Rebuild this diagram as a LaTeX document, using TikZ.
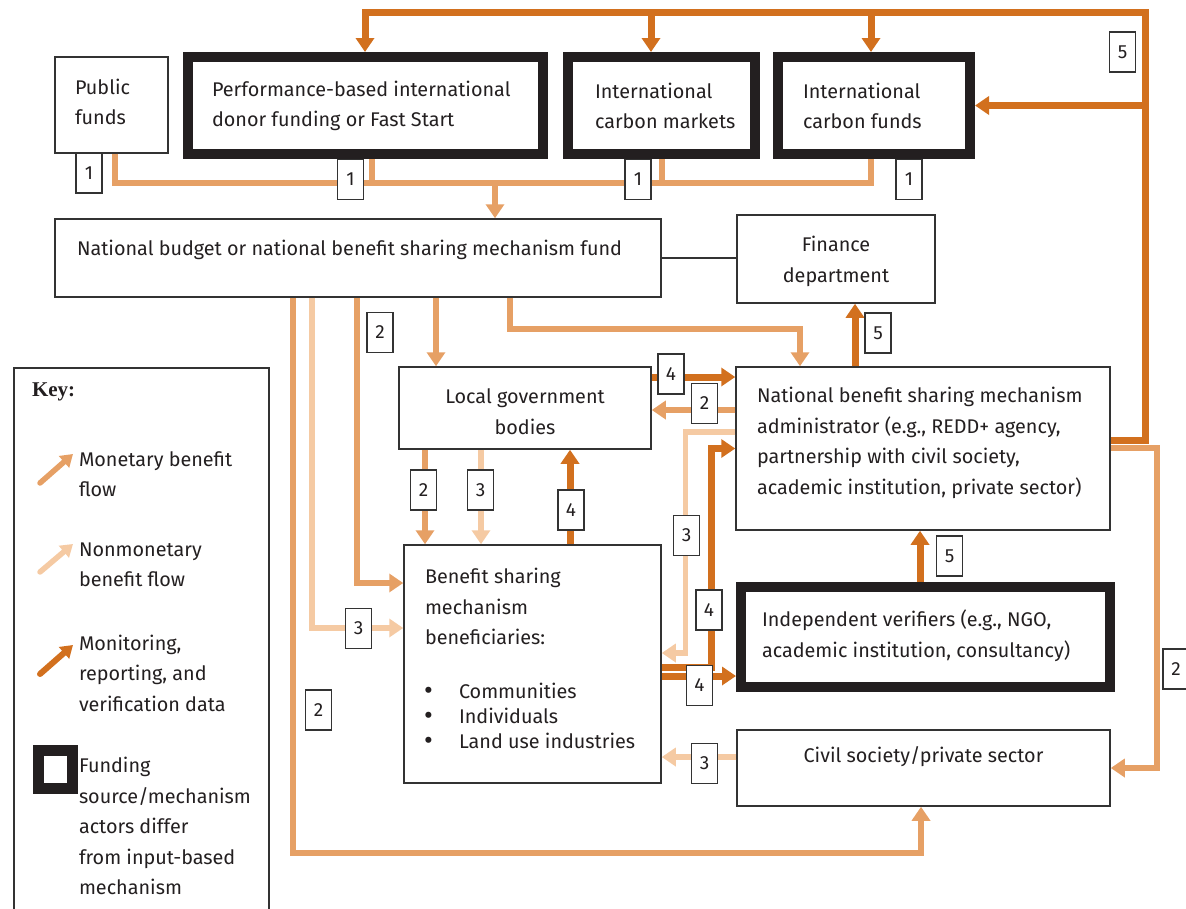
\documentclass[tikz,border=0pt]{standalone}
\usepackage{fontspec}
\setmainfont{Fira Sans}
\newfontfamily\keyfont{Liberation Serif}
\usetikzlibrary{arrows.meta,calc}
\definecolor{mrvc}{HTML}{D2701E}
\definecolor{monc}{HTML}{E6A065}
\definecolor{nonc}{HTML}{F5CAA3}
\definecolor{edge}{HTML}{333333}
\definecolor{heavy}{HTML}{231F20}
\newcommand{\bul}{\makebox[35pt][l]{\raisebox{-1.2pt}{\fontsize{27}{27}\selectfont\textbullet}}}
\begin{document}
\begin{tikzpicture}[x=1pt,y=-1pt,
  every node/.style={inner sep=0pt, outer sep=0pt},
  txt/.style={font=\fontsize{19.8}{30.5}\selectfont, text=heavy, align=left, anchor=west},
  box/.style={draw=edge, line width=1.5pt, outer sep=0.75pt},
  heavybox/.style={draw=heavy, line width=10pt, outer sep=5pt},
  num/.style={draw=edge, fill=white, line width=1.3pt, minimum width=26pt, minimum height=40pt,
              font=\fontsize{19}{20}\selectfont, text=heavy},
  tip/.style={-{Triangle[width=18pt,length=14pt]}},
  smalltip/.style={-{Triangle[width=15pt,length=12pt]}, line cap=round},
  mrv/.style={draw=mrvc, line width=7pt},
  mon/.style={draw=monc, line width=5.5pt},
  non/.style={draw=nonc, line width=5.5pt},
]
\useasboundingbox (0,0) rectangle (1186,908);

% ---- boxes ----
\node[box, minimum width=113pt, minimum height=96pt] (pub) at (111.5,105) {};
\node[heavybox, minimum width=355pt, minimum height=97pt] (perf) at (365.5,105.5) {};
\node[heavybox, minimum width=187pt, minimum height=97pt] (cmk) at (661.5,105.5) {};
\node[heavybox, minimum width=192pt, minimum height=97pt] (cfd) at (874,105.5) {};
\node[box, minimum width=606pt, minimum height=78pt] (nb) at (358,258) {};
\node[box, minimum width=198pt, minimum height=88pt] (fin) at (836,259) {};
\node[box, minimum width=252pt, minimum height=82pt] (lg) at (525,408) {};
\node[box, minimum width=374pt, minimum height=163pt] (adm) at (923,448.5) {};
\node[box, minimum width=257pt, minimum height=238pt] (ben) at (532.5,664) {};
\node[heavybox, minimum width=369pt, minimum height=100pt] (ver) at (925.5,637) {};
\node[box, minimum width=373pt, minimum height=76pt] (civ) at (923.5,768) {};
\node[box, minimum width=255pt, minimum height=560pt, anchor=north west] (key) at (13,367) {};

% ---- box texts ----
\node[txt] (tpub) at (75,102) {Public\\funds};
\node[txt] (tperf) at (212,106) {Performance-based international\\donor funding or Fast Start};
\node[txt] (tcmk) at (595,106) {International\\carbon markets};
\node[txt] (tcfd) at (803,106) {International\\carbon funds};
\node[txt] (tnb) at (77,250) {National budget or national benefit sharing mechanism fund};
\node[txt, align=center, anchor=center] (tfin) at (836,261.5) {Finance\\department};
\node[txt, align=center, anchor=center] (tlg) at (525,411.5) {Local government\\bodies};
\node[txt] (tadm) at (757,443) {National benefit sharing mechanism\\administrator (e.g., REDD+ agency,\\partnership with civil society,\\academic institution, private sector)};
\node[txt] (tben) at (425,606.5) {Benefit sharing\\mechanism\\beneficiaries:};
\node[txt, font=\fontsize{19.8}{25}\selectfont] (tbul) at (424,716)
  {\bul Communities\\\bul Individuals\\\bul Land use industries};
\node[txt] (tver) at (762,635.5) {Independent verifiers (e.g., NGO,\\academic institution, consultancy)};
\node[txt, align=center, anchor=center] (tciv) at (923.5,757) {Civil society/private sector};

% ---- key ----
\node[anchor=west, font=\keyfont\bfseries\fontsize{21}{22}\selectfont, text=heavy] (tkey) at (32,392) {Key:};
\coordinate (km0) at (40,483); \coordinate (km1) at (73,454);
\coordinate (kn0) at (40,572); \coordinate (kn1) at (73,544);
\coordinate (kr0) at (40,674); \coordinate (kr1) at (73,645);
\draw[mon, smalltip] (km0) -- (km1);
\draw[non, smalltip] (kn0) -- (kn1);
\draw[mrv, smalltip, line width=6pt] (kr0) -- (kr1);
\node[heavybox, line width=11pt, minimum width=34pt, minimum height=38pt] (ksq) at (55.5,769.5) {};
\node[txt] (kmon) at (79,474) {Monetary benefit\\flow};
\node[txt] (knon) at (79,565) {Nonmonetary\\benefit flow};
\node[txt] (kmrv) at (79,673) {Monitoring,\\reporting, and\\verification data};
\node[txt] (kfund) at (79,826) {Funding\\source/mechanism\\actors differ\\from input-based\\mechanism};

% ---- funding sources into the national budget ----
\coordinate (bus) at (495,183);
\draw[mon] ($(pub.south)+(3.5,0)$) |- ($(cfd.south)+(-3,24)$) -- ($(cfd.south)+(-3,0)$);
\draw[mon] ($(perf.south)+(6.5,0)$) -- ($(perf.south)+(6.5,24)$);
\draw[mon] ($(cmk.south)+(0.5,0)$) -- ($(cmk.south)+(0.5,24)$);
\draw[mon, tip] (bus) -- (bus |- nb.north);

% ---- national budget fan-out ----
\draw[mon, tip] ($(nb.south)+(-65,0)$) -- ++(0,555) -| ($(civ.south)+(-2.5,0)$);
\draw[non, tip] ($(nb.south)+(-46,0)$) |- ($(ben.west)+(0,-36)$);
\draw[mon, tip] ($(nb.south)+(-1,0)$) |- ($(ben.west)+(0,-81)$);
\draw[mon, tip] ($(nb.south)+(78,0)$) -- ($(lg.north)+(-89,0)$);
\draw[mon, tip] ($(nb.south)+(152,0)$) -- ++(0,31) -| ($(adm.north)+(-123,0)$);
\draw[draw=edge, line width=1.2pt] (nb.east) -- (nb.east -| fin.west);

% ---- local government, administrator, beneficiaries ----
\draw[mrv, tip] ($(lg.east)+(0,-31)$) -- ($(adm.west)+(0,-71.5)$);
\draw[mon, tip] ($(adm.west)+(0,-38.5)$) -- ($(lg.east)+(0,2)$);
\draw[non, tip] ($(adm.west)+(0,-16.5)$) -- ++(-50,0) |- ($(ben.east)+(0,-11)$);
\draw[mrv, tip] ($(ben.east)+(0,3)$) -- ++(50,0) |- (adm.west);
\draw[mrv, tip] ($(ben.east)+(0,12)$) -- ($(ver.west)+(0,39)$);
\draw[mon, tip] ($(lg.south)+(-100,0)$) -- ($(ben.north)+(-107.5,0)$);
\draw[non, tip] ($(lg.south)+(-44,0)$) -- ($(ben.north)+(-51.5,0)$);
\draw[mrv, tip] ($(ben.north)+(37.5,0)$) -- ($(lg.south)+(45,0)$);
\draw[mrv, tip] ($(adm.north)+(-68,0)$) -- ($(fin.south)+(19,0)$);
\draw[mrv, tip] ($(ver.north)+(-5.5,0)$) -- ($(adm.south)+(-3,0)$);
\draw[non, tip] ($(civ.west)+(0,-11)$) -- ($(ben.east)+(0,93)$);

% ---- administrator reporting back to the funders ----
\coordinate (topR) at (1145,12);
\draw[mrv, tip] ($(adm.east)+(0,-8.5)$) -| (topR) -| ($(perf.north)+(-0.5,0)$);
\draw[mrv, tip] ($(cmk.north)+(-10.5,-40)$) -- ($(cmk.north)+(-10.5,0)$);
\draw[mrv, tip] ($(cfd.north)+(-3,-40)$) -- ($(cfd.north)+(-3,0)$);
\draw[mrv, tip] ($(cfd.east)+(170,0)$) -- (cfd.east);
\draw[mon, tip] ($(adm.east)+(0,-0.5)$) -- ++(46,0) |- (civ.east);

% ---- flow numbers ----
\node[num] (l1a) at (89,173) {1};
\node[num] (l1b) at (350.5,179.5) {1};
\node[num] (l1c) at (638,179.5) {1};
\node[num] (l1d) at (909,179.5) {1};
\node[num] (l5a) at (1122.5,52) {5};
\node[num] (l2a) at (380,332.5) {2};
\node[num] (l3a) at (358.5,628.5) {3};
\node[num] (l2b) at (318.5,710) {2};
\node[num] (l4a) at (671,374) {4};
\node[num] (l2c) at (704.5,403.5) {2};
\node[num] (l3b) at (686.5,535.5) {3};
\node[num] (l4b) at (709,610) {4};
\node[num] (l4c) at (699.5,685.5) {4};
\node[num] (l2d) at (423.5,490) {2};
\node[num] (l3c) at (480.5,490) {3};
\node[num] (l4d) at (571,510) {4};
\node[num] (l5b) at (878,333) {5};
\node[num] (l5c) at (949.5,556) {5};
\node[num] (l3d) at (704.5,763.5) {3};
\node[num] (l2e) at (1176,669) {2};
\end{tikzpicture}
\end{document}
